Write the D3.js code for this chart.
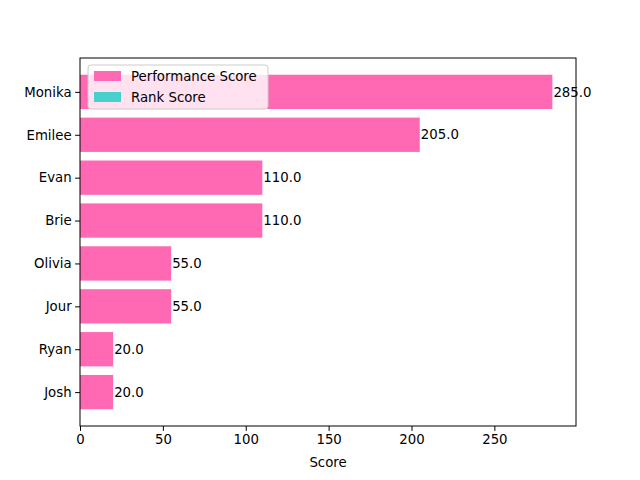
<!DOCTYPE html>
<html><head><meta charset="utf-8">
<script src="https://cdn.jsdelivr.net/npm/d3@7"></script>
<style>body{margin:0;background:#fff}text{font-family:"DejaVu Sans",sans-serif}</style>
</head><body><svg id="c" width="640" height="480"></svg>
<script>
const names = ["Monika","Emilee","Evan","Brie","Olivia","Jour","Ryan","Josh"];
const perf = [285,205,110,110,55,55,20,20];
const seriesNames = ["Performance Score","Rank Score"];
const colors = ["#ff69b4","#48d1cc"];
const xTicks = [0,50,100,150,200,250];

const svg = d3.select("#c");
const L=80,R=576,T=58,B=426;
const x = d3.scaleLinear().domain([0,299.25]).range([L,R]);
// y index: Josh=0 bottom, Monika=7 top
const n = names.length;
const y = d3.scaleLinear().domain([-0.79, n-1+0.79]).range([B,T]);
const idx = i => n-1-i;

svg.selectAll("rect.bar").data(perf).enter().append("rect")
  .attr("x", x(0)).attr("width", d=>x(d)-x(0))
  .attr("y", (d,i)=>y(idx(i)+0.4)).attr("height", (d,i)=>y(idx(i)-0.4)-y(idx(i)+0.4))
  .attr("fill", colors[0]);
svg.selectAll("text.lab").data(perf).enter().append("text")
  .attr("x", d=>x(d)+1).attr("y",(d,i)=>y(idx(i))).attr("dy","0.35em")
  .attr("font-size",13.3).text(d=>d.toFixed(1));

svg.append("rect").attr("x",L).attr("y",T).attr("width",R-L).attr("height",B-T)
  .attr("fill","none").attr("stroke","#000").attr("stroke-width",1);

const xa = svg.append("g").attr("transform",`translate(0,${B})`)
  .call(d3.axisBottom(x).tickValues(xTicks).tickSize(4.9).tickPadding(3.5));
xa.select(".domain").remove();
xa.selectAll("text").attr("font-size",13.3).attr("font-family","DejaVu Sans");
const ya = svg.append("g").attr("transform",`translate(${L},0)`)
  .call(d3.axisLeft(y).tickValues(d3.range(n)).tickFormat(v=>names[n-1-v]).tickSize(4.9).tickPadding(3.5));
ya.select(".domain").remove();
ya.selectAll("text").attr("font-size",13.3).attr("font-family","DejaVu Sans");

svg.append("text").attr("x",(L+R)/2).attr("y",467).attr("text-anchor","middle")
  .attr("font-size",13.3).text("Score");

const lg = svg.append("g").attr("transform","translate(88,65)");
lg.append("rect").attr("width",180).attr("height",44).attr("rx",3)
  .attr("fill","#fff").attr("fill-opacity",0.8).attr("stroke","#ccc");
seriesNames.forEach((s,i)=>{
  lg.append("rect").attr("x",6).attr("y",6+i*21).attr("width",27).attr("height",10).attr("fill",colors[i]);
  lg.append("text").attr("x",43).attr("y",11+i*21).attr("dy","0.35em").attr("font-size",13.3).text(s);
});
</script></body></html>
